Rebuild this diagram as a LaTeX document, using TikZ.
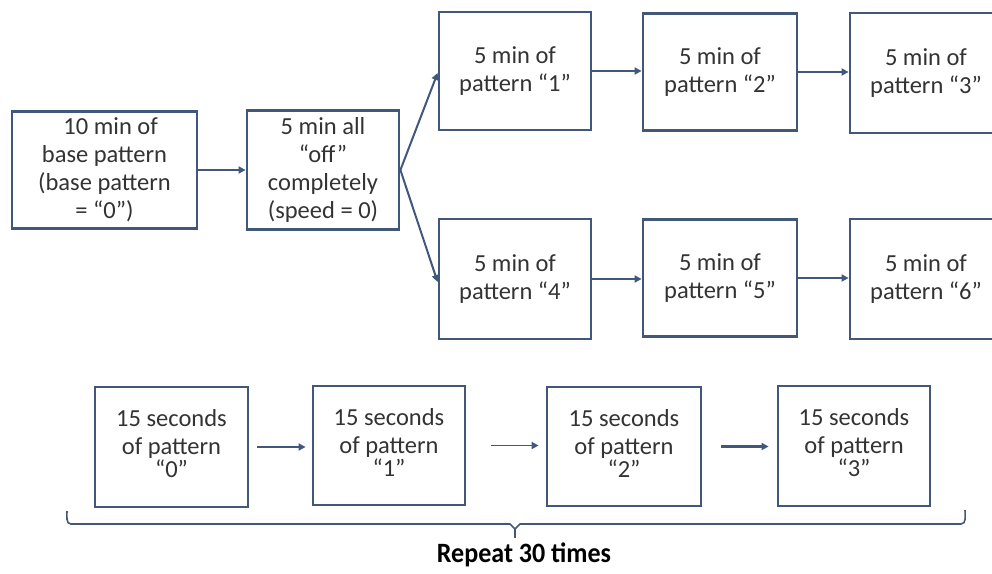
\documentclass[tikz,border=0pt]{standalone}
\usepackage{fontspec}
\setmainfont{Carlito}
\usetikzlibrary{arrows.meta}
\definecolor{edge}{HTML}{41587A}
\definecolor{ink}{HTML}{333333}
\tikzset{
  stage/.style={draw=edge, line width=2.8pt, fill=white, align=center,
    text=ink, inner sep=0pt, font=\fontsize{24.5}{28}\selectfont},
  short stage/.style={stage, text depth=7pt},
  flow/.style={draw=edge, line width=1.7pt,
    -{Triangle[length=7pt,width=7pt]}},
  bold flow/.style={flow, line width=2.8pt},
  brace/.style={draw=edge, line width=1.6pt, line join=round}
}
\begin{document}
\begin{tikzpicture}[x=1pt,y=-1pt]
\useasboundingbox (0,0) rectangle (992,573);
\clip (0,0) rectangle (992,573);

% first stage: base pattern, then everything off
\node[stage, minimum width=185pt, minimum height=117pt] (base) at (104.5,170)
  {\hspace{0.5em}10 min of\\base pattern\\(base pattern\\= “0”)};
\node[stage, minimum width=152pt, minimum height=119pt] (off) at (323,170)
  {5 min all\\“off”\\completely\\(speed = 0)};

% upper branch: patterns 1-3
\node[stage, minimum width=152pt, minimum height=118pt] (p1) at (515,71)
  {5 min of\\pattern “1”};
\node[stage, minimum width=154pt, minimum height=117pt] (p2) at (720,72)
  {5 min of\\pattern “2”};
\node[stage, minimum width=152pt, minimum height=120pt] (p3) at (926,73)
  {5 min of\\pattern “3”};

% lower branch: patterns 4-6
\node[stage, minimum width=152pt, minimum height=120pt] (p4) at (515,279)
  {5 min of\\pattern “4”};
\node[stage, minimum width=154pt, minimum height=117pt] (p5) at (720,278)
  {5 min of\\pattern “5”};
\node[stage, minimum width=152pt, minimum height=120pt] (p6) at (926,279)
  {5 min of\\pattern “6”};

% short cycle of 15 second patterns
\node[short stage, minimum width=153pt, minimum height=120pt] (s0) at (171.5,447)
  {15 seconds\\of pattern\\[-5pt]“0”};
\node[short stage, minimum width=152pt, minimum height=119pt] (s1) at (389,445.5)
  {15 seconds\\of pattern\\[-5pt]“1”};
\node[short stage, minimum width=154pt, minimum height=119pt] (s2) at (624,446.5)
  {15 seconds\\of pattern\\[-5pt]“2”};
\node[short stage, minimum width=152pt, minimum height=120pt] (s3) at (854,446)
  {15 seconds\\of pattern\\[-5pt]“3”};

% connectors
\draw[bold flow] (base.east) -- (off.west);
\draw[flow, line width=2pt] (off.east) -- ([yshift=-2pt]p1.west);
\draw[flow, line width=2pt] (off.east) -- ([yshift=-3pt]p4.west);
\draw[flow] (p1.east) -- (p1.east -| p2.west);
\draw[flow] (p2.east) -- (p2.east -| p3.west);
\draw[bold flow] (p4.east) -- (p4.east -| p5.west);
\draw[bold flow] (p5.east) -- (p5.east -| p6.west);
\draw[flow, shorten <=8pt, shorten >=6pt] (s0.east) -- (s0.east -| s1.west);
\draw[flow, shorten <=25pt, shorten >=7pt] (s1.east) -- (s1.east -| s2.west);
\draw[bold flow, shorten <=19pt, shorten >=8pt] (s2.east) -- (s2.east -| s3.west);

% brace under the cycle
\coordinate (bl) at (67,511);
\coordinate (br) at (965,510);
\coordinate (bm) at (515,529);
\draw[brace] (bl) to[out=-90,in=180] (71,524) -- (510,524) -- (bm)
  -- (520,524) -- (961,524) to[out=0,in=-90] (br);
\draw[brace] (bm) -- (515,538);
\node[font=\fontsize{28}{32}\selectfont\bfseries, text=black, xscale=0.93]
  (rep) at (524,555) {Repeat 30 times};
\end{tikzpicture}
\end{document}
